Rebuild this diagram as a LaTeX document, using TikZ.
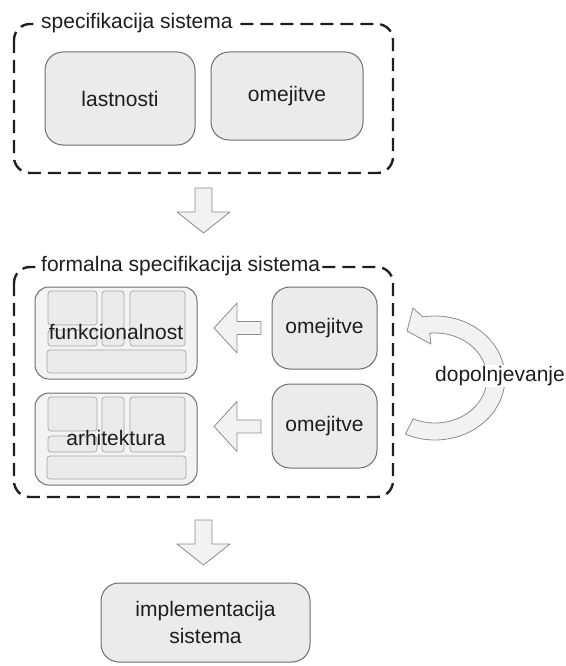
\documentclass[tikz,border=0pt]{standalone}
\usepackage{fontspec}
\setmainfont{Liberation Sans}
\definecolor{boxfill}{HTML}{EBEBEB}
\definecolor{boxline}{HTML}{6E6E6E}
\definecolor{arrowfill}{HTML}{F2F2F2}
\definecolor{arrowline}{HTML}{8C8C8C}
\definecolor{txt}{HTML}{1E1E1E}
\definecolor{panelfill}{HTML}{F3F3F3}
\definecolor{cellfill}{HTML}{EBEBEB}
\definecolor{cellline}{HTML}{A6A6A6}

\tikzset{
  dashframe/.style={draw=black!88, line width=2.4pt, dash pattern=on 13pt off 7pt, rounded corners=16pt},
  ftitle/.style={fill=white, inner sep=2pt, text=txt, font=\fontsize{21}{25}\selectfont, anchor=west},
  rbox/.style={draw=boxline, fill=boxfill, line width=1pt, rounded corners=18pt, text=txt,
    font=\fontsize{21}{27}\selectfont, align=center, inner sep=0pt},
  panel/.style={draw=boxline, fill=panelfill, line width=1pt, rounded corners=14pt, inner sep=0pt},
  cell/.style={draw=cellline, fill=cellfill, line width=0.7pt, rounded corners=3pt, inner sep=0pt},
  lbl/.style={text=txt, font=\fontsize{21}{25}\selectfont, inner sep=1pt},
  blockarrow/.style={draw=arrowline, fill=arrowfill, line width=0.8pt, line join=round},
  pics/downarrow/.style={code={
    \draw[blockarrow] (-8.5,0) -- (8.5,0) -- (8.5,24) -- (26.5,24) -- (0,45)
      -- (-26.5,24) -- (-8.5,24) -- cycle;}},
  pics/leftarrow/.style={code={
    \draw[blockarrow] (0,0) -- (23,-25) -- (23,-6.5) -- (47,-6.5) -- (47,6.5)
      -- (23,6.5) -- (23,25) -- cycle;}},
}

% a model panel: outer frame, five cells and a label
\newcommand{\modpanel}[3]{%
  \node[panel, minimum width=162pt, minimum height=92pt] (#1) at (116,#2+46) {};
  \node[cell, minimum width=49pt, minimum height=34pt] (#1-a) at (72.5,#2+21) {};
  \node[cell, minimum width=49pt, minimum height=16pt] (#1-b) at (72.5,#2+51) {};
  \node[cell, minimum width=22pt, minimum height=55pt] (#1-c) at (113,#2+31.5) {};
  \node[cell, minimum width=55pt, minimum height=55pt] (#1-d) at (157.5,#2+31.5) {};
  \node[cell, minimum width=139pt, minimum height=23pt] (#1-e) at (116.5,#2+74.5) {};
  \node[lbl] (#1-t) at (116,#2+45) {#3};
}

\begin{document}
\begin{tikzpicture}[x=1pt, y=-1pt]
\useasboundingbox (0,0) rectangle (565,666);

% system specification
\draw[dashframe] (14,24) rectangle (393,173);
\node[ftitle] (spec) at (39,23) {specifikacija sistema};
\node[rbox, minimum width=150pt, minimum height=93pt] (lastnosti) at (120,98.5) {lastnosti};
\node[rbox, minimum width=152pt, minimum height=88pt] (omej0) at (287,96) {omejitve};

\pic at (203.5,188) {downarrow};

% formal system specification
\draw[dashframe] (14,267) rectangle (393,497);
\node[ftitle] (fspec) at (39,266) {formalna specifikacija sistema};

\modpanel{funk}{287}{funkcionalnost}
\modpanel{arh}{393}{arhitektura}

\node[rbox, minimum width=105pt, minimum height=82pt] (omej1) at (324.5,328) {omejitve};
\node[rbox, minimum width=105pt, minimum height=84pt] (omej2) at (324.5,426) {omejitve};

\pic at (214,328) {leftarrow};
\pic at (214,426.5) {leftarrow};

% circular refinement arrow
\draw[blockarrow] (413,308) -- (407,331) -- (431,344)
  -- plot[domain=-96:115, samples=60] ({435+52*cos(\x)},{378+45*sin(\x)})
  -- plot[domain=-115:100, samples=60] ({435+70*cos(\x)},{378-62*sin(\x)})
  -- cycle;
\node[lbl, fill=white] (dop) at (500,376) {dopolnjevanje};

\pic at (203.5,520) {downarrow};

% implementation
\node[rbox, minimum width=209pt, minimum height=79pt] (impl) at (205.5,622.5)
  {implementacija\\sistema};
\end{tikzpicture}
\end{document}
